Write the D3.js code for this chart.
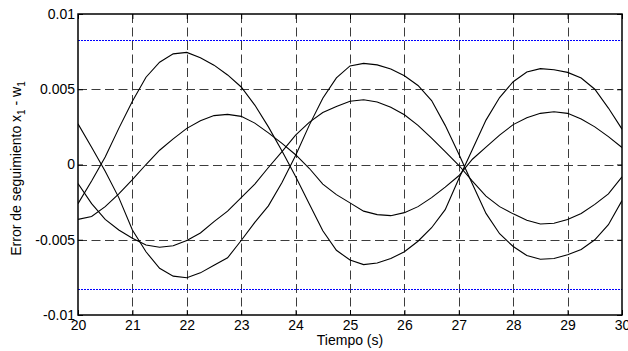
<!DOCTYPE html>
<html>
<head>
<meta charset="utf-8">
<script src="https://cdn.jsdelivr.net/npm/d3@7/dist/d3.min.js"></script>
<style>
  html, body { margin: 0; padding: 0; background: #fff; }
  svg { display: block; font-family: "Liberation Sans", Arial, sans-serif; }
</style>
</head>
<body>
<svg id="chart" width="628" height="351"></svg>
<script>
// ---- data (error values in units of 1e-3) ----
const time = [20, 20.25, 20.5, 20.75, 21, 21.25, 21.5, 21.75, 22, 22.25, 22.5, 22.75,
  23, 23.25, 23.5, 23.75, 24, 24.25, 24.5, 24.75, 25, 25.25, 25.5, 25.75,
  26, 26.25, 26.5, 26.75, 27, 27.25, 27.5, 27.75, 28, 28.25, 28.5, 28.75,
  29, 29.25, 29.5, 29.75, 30];

const errorA = [-2.6, -1.1, 0.5, 2.4, 4.2, 5.8, 6.8, 7.35, 7.45, 7.1, 6.6, 5.95,
  5.15, 3.95, 2.5, 0.9, -0.8, -2.6, -4.4, -5.7, -6.35, -6.65, -6.55, -6.25,
  -5.8, -5.1, -4.2, -3.0, -0.95, 1.0, 2.95, 4.45, 5.5, 6.15, 6.37, 6.3,
  6.12, 5.75, 5.0, 3.75, 2.35];

const errorB = [-3.65, -3.45, -2.8, -1.95, -1.0, 0.0, 0.95, 1.7, 2.4, 2.9, 3.25, 3.33,
  3.2, 2.75, 2.1, 1.4, 0.65, -0.25, -1.3, -2.0, -2.55, -3.1, -3.33, -3.4,
  -3.2, -2.8, -2.2, -1.5, -0.75, 0.35, 1.15, 1.95, 2.65, 3.1, 3.4, 3.5,
  3.4, 3.02, 2.5, 1.85, 1.13];

const errorC = [-1.26, -2.6, -3.65, -4.35, -4.9, -5.35, -5.5, -5.4, -5.05, -4.55, -3.8, -3.1,
  -2.2, -1.3, -0.2, 0.85, 1.95, 2.8, 3.45, 3.85, 4.2, 4.3, 4.15, 3.8,
  3.3, 2.6, 1.75, 0.85, -0.05, -1.1, -2.1, -2.8, -3.28, -3.7, -3.95, -3.9,
  -3.65, -3.25, -2.65, -1.95, -0.82];

const errorD = [2.7, 1.15, -0.45, -2.2, -4.35, -5.8, -6.9, -7.42, -7.52, -7.2, -6.7, -6.2,
  -5.05, -3.85, -2.75, -1.2, 0.6, 2.6, 4.4, 5.75, 6.55, 6.72, 6.62, 6.35,
  5.9, 5.25, 4.25, 2.6, 0.7, -1.3, -3.25, -4.6, -5.45, -6.05, -6.3, -6.25,
  -6.0, -5.65, -5.0, -4.0, -2.4];

const limitValues = [0.0083, -0.0083];

const xTicks = [20, 21, 22, 23, 24, 25, 26, 27, 28, 29, 30];
const yTicks = [-0.01, -0.005, 0, 0.005, 0.01];
const yTickLabels = ["-0.01", "-0.005", "0", "0.005", "0.01"];
const xLabel = "Tiempo (s)";

// ---- layout ----
const svg = d3.select("#chart");
const L = 78, R = 622, T = 14, B = 315;

const x = d3.scaleLinear().domain([20, 30]).range([L, R]);
const y = d3.scaleLinear().domain([-0.01, 0.01]).range([B, T]);

svg.append("defs").append("clipPath").attr("id", "clip")
  .append("rect").attr("x", L).attr("y", T).attr("width", R - L).attr("height", B - T);

// grid
const grid = svg.append("g").attr("stroke", "#3c3c3c").attr("stroke-width", 1)
  .attr("stroke-dasharray", "9,4.5").attr("fill", "none");
xTicks.slice(1, -1).forEach(v => {
  grid.append("line").attr("x1", Math.round(x(v)) + 0.5).attr("x2", Math.round(x(v)) + 0.5)
    .attr("y1", T).attr("y2", B);
});
yTicks.slice(1, -1).forEach(v => {
  grid.append("line").attr("y1", Math.round(y(v)) + 0.5).attr("y2", Math.round(y(v)) + 0.5)
    .attr("x1", L).attr("x2", R);
});

// limit lines
svg.append("g").selectAll("line").data(limitValues).join("line")
  .attr("x1", L).attr("x2", R)
  .attr("y1", d => Math.round(y(d)) + 0.5).attr("y2", d => Math.round(y(d)) + 0.5)
  .attr("stroke", "#0000ff").attr("stroke-width", 1).attr("stroke-dasharray", "2,1");

// curves
const series = [errorA, errorB, errorC, errorD];
const line = d3.line().x((d, i) => x(time[i])).y(d => y(d / 1000));
svg.append("g").attr("clip-path", "url(#clip)").selectAll("path").data(series).join("path")
  .attr("d", d => line(d))
  .attr("fill", "none").attr("stroke", "#000").attr("stroke-width", 1.1);

// axes
const fmtY = v => yTickLabels[yTicks.indexOf(v)];
const axB = svg.append("g").attr("transform", `translate(0,${B})`)
  .call(d3.axisBottom(x).tickValues(xTicks).tickFormat(d3.format("d")).tickSizeInner(-5).tickSizeOuter(0).tickPadding(5));
const axT = svg.append("g").attr("transform", `translate(0,${T})`)
  .call(d3.axisTop(x).tickValues(xTicks).tickFormat("").tickSizeInner(-5).tickSizeOuter(0));
const axL = svg.append("g").attr("transform", `translate(${L},0)`)
  .call(d3.axisLeft(y).tickValues(yTicks).tickFormat(fmtY).tickSizeInner(-5).tickSizeOuter(0).tickPadding(3));
const axR = svg.append("g").attr("transform", `translate(${R},0)`)
  .call(d3.axisRight(y).tickValues(yTicks).tickFormat("").tickSizeInner(-5).tickSizeOuter(0));

[axB, axT, axL, axR].forEach(a => {
  a.select(".domain").remove();
  a.selectAll("text").attr("font-size", 14).attr("fill", "#000")
    .attr("font-family", "'Liberation Sans', Arial, sans-serif");
  a.selectAll(".tick line").attr("stroke", "#000");
});

// frame
svg.append("rect").attr("x", L).attr("y", T).attr("width", R - L).attr("height", B - T)
  .attr("fill", "none").attr("stroke", "#000").attr("stroke-width", 1.5);

// labels
svg.append("text").attr("x", (L + R) / 2).attr("y", 345).attr("text-anchor", "middle")
  .attr("font-size", 14).text(xLabel);

const yl = svg.append("text").attr("transform", `translate(21,${(T + B) / 2 + 4}) rotate(-90)`)
  .attr("text-anchor", "middle").attr("font-size", 14);
yl.append("tspan").text("Error de seguimiento x");
yl.append("tspan").attr("dy", 4).attr("font-size", 10).text("1");
yl.append("tspan").attr("dy", -4).text(" - w");
yl.append("tspan").attr("dy", 4).attr("font-size", 10).text("1");
</script>
</body>
</html>
